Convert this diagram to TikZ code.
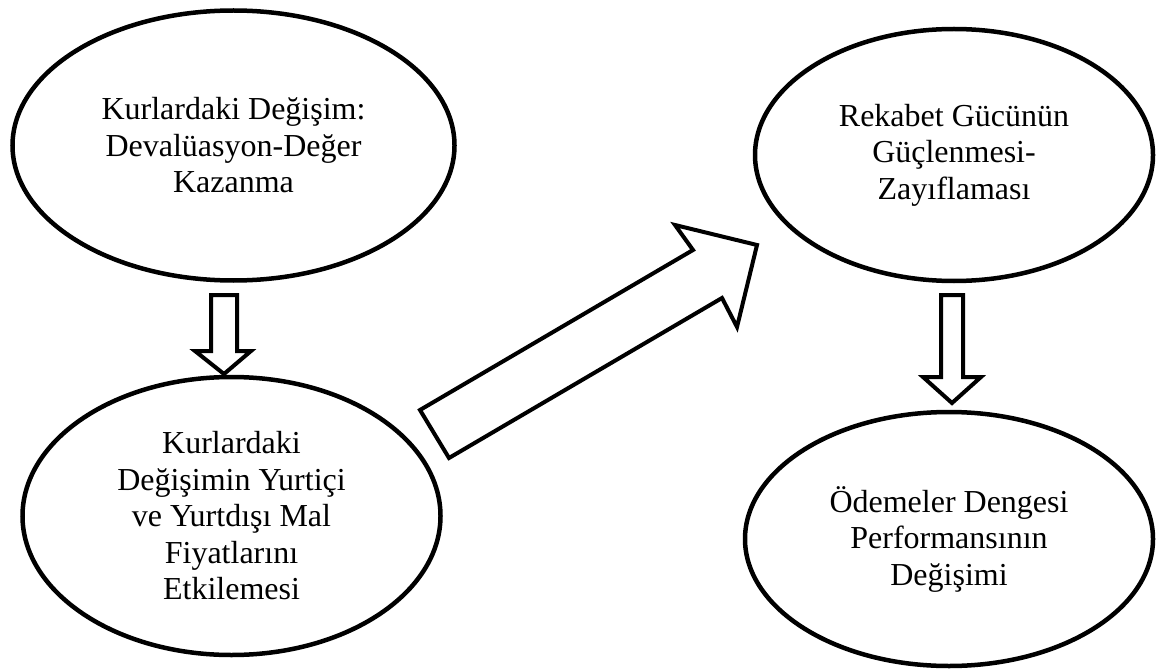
\documentclass[tikz,border=0pt]{standalone}
\usepackage{fontspec}
\setmainfont{Liberation Serif}
\usetikzlibrary{shapes.geometric}
\begin{document}
\begin{tikzpicture}[x=1pt,y=-1pt,
  bubble/.style={ellipse, draw, line width=4.5pt, inner sep=0pt, align=center,
    font=\fontsize{32}{36.5}\selectfont},
  blockarrow/.style={draw, line width=4pt, line join=miter, fill=white}]
\useasboundingbox (0,0) rectangle (1158,671);
\node[bubble, minimum width=442pt, minimum height=270pt] (e1) at (233.5,145.5)
  {Kurlardaki Değişim:\\Devalüasyon-Değer\\Kazanma};
\node[bubble, minimum width=418pt, minimum height=278pt] (e2) at (231.5,516)
  {Kurlardaki\\Değişimin Yurtiçi\\ve Yurtdışı Mal\\Fiyatlarını\\Etkilemesi};
\node[bubble, minimum width=398pt, minimum height=252pt] (e3) at (954,155)
  {Rekabet Gücünün\\Güçlenmesi-\\Zayıflaması};
\node[bubble, minimum width=408pt, minimum height=254pt] (e4) at (949,539)
  {Ödemeler Dengesi\\Performansının\\Değişimi};
% down arrow left
\draw[blockarrow] (211,295) -- (237,295) -- (237,351) -- (251,351) -- (224,374)
  -- (195,351) -- (211,351) -- cycle;
% down arrow right
\draw[blockarrow] (941,295) -- (963,295) -- (963,377) -- (981,377) -- (952,403)
  -- (923,377) -- (941,377) -- cycle;
% diagonal arrow
\draw[blockarrow] (420,410) -- (693,250) -- (675,225) -- (757,245) -- (737,327)
  -- (722,298) -- (449,458) -- cycle;
\end{tikzpicture}
\end{document}
